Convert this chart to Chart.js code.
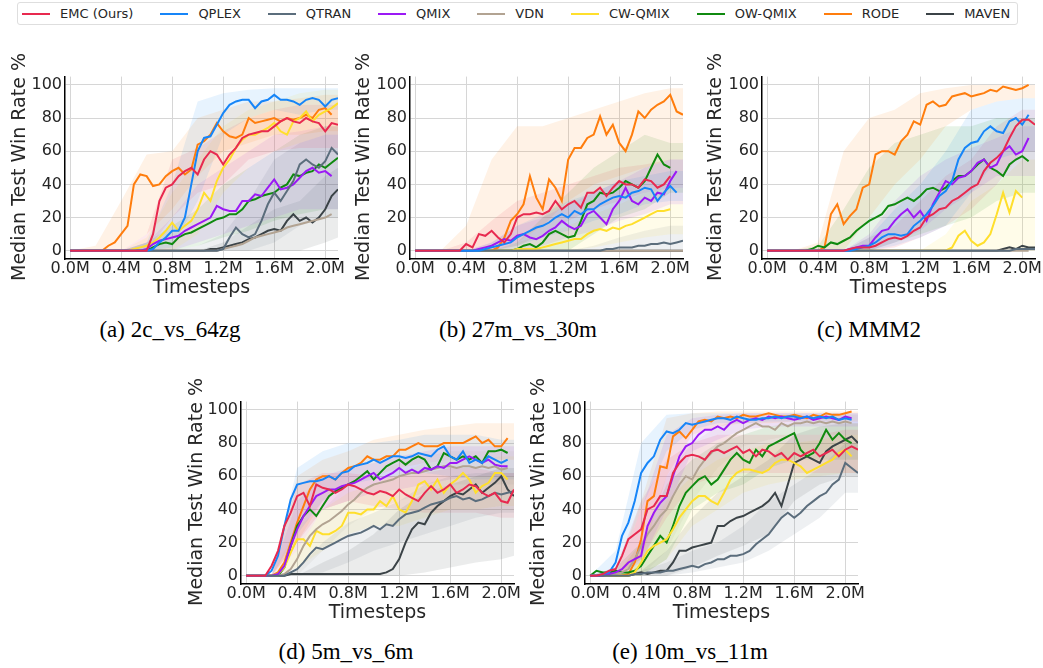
<!DOCTYPE html>
<html>
<head>
<meta charset="utf-8">
<script src="https://cdn.jsdelivr.net/npm/chart.js@4.4.1/dist/chart.umd.min.js"></script>
<style>
  body { margin: 0; width: 1043px; height: 668px; overflow: hidden; background: #fff; position: relative; font-family: "DejaVu Sans"; }
  .legend { position: absolute; left: 17px; top: 2px; width: 1001px; height: 23px; box-sizing: border-box;
            border: 1px solid #dedede; border-radius: 3px; display: flex; align-items: center; padding-left: 4px; }
  .item { display: flex; align-items: center; margin-right: 27px; font-size: 13px; color: #262626; white-space: nowrap; }
  .sw { width: 28px; height: 2px; margin-right: 10px; }
  .plot { position: absolute; width: 342px; height: 235px; }
  .cap { position: absolute; font-family: "Liberation Serif"; font-size: 23px; color: #000; transform: translate(-50%, -50%); white-space: nowrap; }
  .ytitle { position: absolute; font-size: 19px; color: #262626; white-space: nowrap; transform: translate(-50%, -50%) rotate(-90deg); }
</style>
</head>
<body>
<div class="legend" id="legend"></div>

<div class="plot" style="left:6px;top:64px"><canvas id="c2c"></canvas></div>
<div class="plot" style="left:351px;top:64px"><canvas id="c27m"></canvas></div>
<div class="plot" style="left:703px;top:64px"><canvas id="cMMM2"></canvas></div>
<div class="plot" style="left:182px;top:389px"><canvas id="c5m"></canvas></div>
<div class="plot" style="left:526px;top:389px"><canvas id="c10m"></canvas></div>

<div class="ytitle" style="left:18px;top:167px">Median Test Win Rate %</div>
<div class="ytitle" style="left:362px;top:167px">Median Test Win Rate %</div>
<div class="ytitle" style="left:714px;top:167px">Median Test Win Rate %</div>
<div class="ytitle" style="left:195px;top:492px">Median Test Win Rate %</div>
<div class="ytitle" style="left:537px;top:492px">Median Test Win Rate %</div>

<div class="cap" style="left:170px;top:330px">(a) 2c_vs_64zg</div>
<div class="cap" style="left:518px;top:330px">(b) 27m_vs_30m</div>
<div class="cap" style="left:869px;top:330px">(c) MMM2</div>
<div class="cap" style="left:346px;top:652px">(d) 5m_vs_6m</div>
<div class="cap" style="left:690px;top:652px">(e) 10m_vs_11m</div>

<script>
// methods, in legend order
const keys = ['EMC', 'QPLEX', 'QTRAN', 'QMIX', 'VDN', 'CW', 'OW', 'RODE', 'MAVEN'];
const labels = ['EMC (Ours)', 'QPLEX', 'QTRAN', 'QMIX', 'VDN', 'CW-QMIX', 'OW-QMIX', 'RODE', 'MAVEN'];
const colors = ['#e8294f', '#1685f8', '#5b6d7c', '#9b19f5', '#b2a392', '#ffdf2c', '#108a10', '#ff7d0d', '#3b4347'];

// timesteps (millions), one every 0.05M
const steps = [0, 0.05, 0.1, 0.15, 0.2, 0.25, 0.3, 0.35, 0.4, 0.45, 0.5, 0.55, 0.6, 0.65, 0.7, 0.75, 0.8, 0.85, 0.9, 0.95,
  1.0, 1.05, 1.1, 1.15, 1.2, 1.25, 1.3, 1.35, 1.4, 1.45, 1.5, 1.55, 1.6, 1.65, 1.7, 1.75, 1.8, 1.85, 1.9, 1.95, 2.0, 2.05, 2.1];
// coarser grid for the shaded spread
const bandSteps = [0, 0.2, 0.4, 0.6, 0.8, 1.0, 1.2, 1.4, 1.6, 1.8, 2.0, 2.1];

const xTicks = [0, 0.4, 0.8, 1.2, 1.6, 2.0];
const yTicks = [0, 20, 40, 60, 80, 100];

// (a) 2c_vs_64zg
const win2c = {
  EMC: [0,0,0,0,0,0,0,0,0,0,0,0,0,10,30,38,40,45,48,50,46,55,60,58,52,58,62,68,70,71,72,72,75,78,80,78,77,80,78,77,72,77,76],
  QPLEX: [0,0,0,0,0,0,0,0,0,0,0,0,0,1,5,8,12,12,20,40,60,68,69,76,83,88,90,91,91,86,90,91,94,91,91,90,88,91,92,91,87,91,92],
  QTRAN: [0,0,0,0,0,0,0,0,0,0,0,0,0,0,0,0,0,0,0,0,0,0,0,0,1,8,14,10,8,10,18,28,35,30,36,42,52,55,52,50,54,62,58],
  QMIX: [0,0,0,0,0,0,0,0,0,0,0,0,1,4,6,7,8,9,12,14,16,18,20,27,25,24,24,30,30,34,33,38,43,37,38,40,44,48,50,47,48,45],
  VDN: [0,0,0,0,0,0,0,0,0,0,0,0,0,0,0,0,0,0,0,0,0,0,0,0,1,2,3,4,6,8,9,10,11,12,14,15,16,17,18,19,20,22],
  CW: [0,0,0,0,0,0,0,0,0,0,1,2,3,5,8,12,17,12,15,18,25,35,30,42,50,55,62,67,70,70,72,74,77,72,70,78,80,84,78,82,84,86,89],
  OW: [0,0,0,0,0,0,0,0,0,0,0,0,0,2,4,5,4,8,10,11,13,15,17,19,20,22,22,25,30,31,33,34,35,38,40,46,45,47,48,52,50,53,56],
  RODE: [0,0,0,0,0,0,3,5,10,15,40,46,45,39,40,45,48,50,46,49,64,66,70,77,72,69,68,70,80,77,78,79,80,78,80,79,80,82,80,85,86,82],
  MAVEN: [0,0,0,0,0,0,0,0,0,0,0,0,0,0,0,0,0,0,0,0,0,0,1,1,2,3,4,5,7,8,10,12,13,12,18,22,18,20,17,20,25,33,37]
};
const band2c = {
  RODE: [[0,0,0,10,25,45,60,65,70,70,72,72], [0,3,30,58,60,80,85,90,90,92,94,94]],
  QPLEX: [[0,0,0,0,2,30,70,80,85,82,85,85], [0,0,0,5,40,90,95,97,98,98,98,98]],
  EMC: [[0,0,0,0,20,35,40,55,60,62,62,62], [0,0,0,10,55,62,72,80,85,88,88,88]],
  CW: [[0,0,0,0,0,10,35,50,60,65,70,70], [0,0,0,8,35,55,75,85,90,95,97,97]],
  QMIX: [[0,0,0,0,0,5,10,15,20,25,25,25], [0,0,0,5,20,40,50,60,70,72,75,75]],
  OW: [[0,0,0,0,0,3,8,12,18,22,25,25], [0,0,0,5,15,25,40,50,60,70,75,75]],
  QTRAN: [[0,0,0,0,0,0,0,0,5,15,20,20], [0,0,0,0,0,3,10,30,55,65,70,70]],
  MAVEN: [[0,0,0,0,0,0,0,0,0,0,5,8], [0,0,0,0,0,0,5,15,25,30,45,50]]
};

// (b) 27m_vs_30m
const win27m = {
  EMC: [0,0,0,0,0,0,0,0,4,2,10,9,12,8,5,10,20,22,22,23,22,24,30,25,28,30,26,35,35,38,33,38,42,40,40,38,43,42,38,40,45],
  QPLEX: [0,0,0,0,0,0,0,0,0,0,0,1,2,3,4,5,8,10,12,14,15,17,20,22,20,24,22,25,25,28,30,32,33,32,35,36,38,37,30,35,39,35],
  QTRAN: [0,0,0,0,0,0,0,0,0,0,0,0,0,0,0,0,0,0,0,0,0,0,0,0,0,0,0,0,0,0,1,1,2,2,2,3,3,4,4,5,4,5,6],
  QMIX: [0,0,0,0,0,0,0,0,0,0,1,2,3,5,7,6,9,10,8,7,9,12,14,18,15,13,15,22,24,20,16,25,30,38,30,28,32,30,35,34,42,48],
  VDN: [0,0,0,0,0,0,0,0,0,0,0,0,0,0,0,0,0,0,0,0,0,0,0,0,0,0,0,0,0,0,0,0,0,0,0,0,0,0,0,0,0,0,0],
  CW: [0,0,0,0,0,0,0,0,0,0,0,0,0,0,0,0,1,1,1,1,2,3,4,5,6,7,7,10,12,13,12,14,13,15,16,18,20,22,24,24,25],
  OW: [0,0,0,0,0,0,0,0,0,0,0,0,0,0,0,0,1,3,4,2,5,10,12,10,8,9,18,28,30,35,34,35,38,42,40,38,42,50,58,52,50],
  RODE: [0,0,0,0,0,0,0,0,0,0,0,0,0,2,8,18,22,28,45,32,25,43,38,30,55,62,62,68,70,81,70,76,65,60,70,84,80,85,88,90,94,84,82],
  MAVEN: [0,0,0,0,0,0,0,0,0,0,0,0,0,0,0,0,0,0,0,0,0,0,0,0,0,0,0,0,0,0,0,0,0,0,0,0,0,0,0,0,0,0,0]
};
const band27m = {
  RODE: [[0,0,0,0,5,15,30,40,45,50,55,55], [0,0,15,55,75,75,80,85,90,95,98,98]],
  OW: [[0,0,0,0,0,0,0,10,20,25,35,35], [0,0,0,0,5,20,35,50,60,70,65,65]],
  QMIX: [[0,0,0,0,0,3,8,12,18,22,28,28], [0,0,0,5,15,20,28,35,42,50,55,55]],
  QPLEX: [[0,0,0,0,3,8,12,18,22,28,30,30], [0,0,0,5,15,22,30,35,42,45,48,48]],
  CW: [[0,0,0,0,0,0,0,2,5,8,10,10], [0,0,0,0,5,10,15,22,28,35,38,38]],
  EMC: [[0,0,0,0,3,10,18,25,30,35,38,38], [0,0,5,18,30,35,40,45,50,52,55,55]],
  QTRAN: [[0,0,0,0,0,0,0,0,0,0,0,0], [0,0,0,0,0,0,0,3,8,12,15,15]]
};

// (c) MMM2
const winMMM2 = {
  EMC: [0,0,0,0,0,0,0,0,0,0,0,0,0,1,2,2,2,3,5,7,8,7,9,12,14,20,22,25,26,30,32,35,38,40,48,53,56,60,68,75,79,79,76],
  QPLEX: [0,0,0,0,0,0,0,0,0,0,0,0,0,0,1,2,3,5,8,10,10,9,10,15,18,22,27,33,36,42,55,62,65,66,72,75,72,71,78,80,76,82],
  QTRAN: [0,0,0,0,0,0,0,0,0,0,0,0,0,0,0,0,0,0,0,0,0,0,0,0,0,0,0,0,0,0,0,0,0,0,0,0,0,0,0,1,1,1,1],
  QMIX: [0,0,0,0,0,0,0,0,0,0,0,0,0,1,2,3,3,8,12,13,18,22,25,20,24,18,28,35,42,40,44,45,48,53,55,50,52,60,63,58,60,68],
  VDN: [0,0,0,0,0,0,0,0,0,0,0,0,0,0,0,0,0,0,0,0,0,0,0,0,0,0,0,0,0,0,0,0,0,0,0,0,0,0,0,0,0,0],
  CW: [0,0,0,0,0,0,0,0,0,0,0,0,0,0,0,0,0,0,0,0,0,0,0,0,0,0,0,0,0,2,9,12,6,3,5,10,22,35,23,36,32],
  OW: [0,0,0,0,0,0,0,1,3,2,5,4,6,8,12,15,18,20,22,27,28,30,32,30,33,37,38,36,38,42,45,45,48,52,55,50,48,45,52,55,57,54],
  RODE: [0,0,0,0,0,0,0,0,0,2,22,28,16,21,25,38,40,58,60,60,58,66,70,78,76,88,90,87,88,93,94,95,93,94,95,97,96,99,98,97,98,100],
  MAVEN: [0,0,0,0,0,0,0,0,0,0,0,0,0,0,0,0,0,0,0,0,0,0,0,0,0,0,0,0,0,0,0,0,0,0,0,0,0,1,2,1,3,2,2]
};
const bandMMM2 = {
  RODE: [[0,0,0,0,20,40,55,75,85,90,92,92], [0,0,5,60,80,85,95,98,100,100,100,100]],
  OW: [[0,0,0,0,0,5,10,15,20,30,35,35], [0,0,3,25,50,65,70,75,75,80,80,80]],
  QPLEX: [[0,0,0,0,0,3,8,15,35,55,60,60], [0,0,0,0,8,25,40,60,85,90,92,92]],
  QMIX: [[0,0,0,0,0,5,12,25,35,45,45,45], [0,0,0,0,10,30,45,55,62,68,75,75]],
  EMC: [[0,0,0,0,0,2,8,15,25,40,60,60], [0,0,0,0,8,15,30,45,55,75,85,85]],
  CW: [[0,0,0,0,0,0,0,0,0,0,0,0], [0,0,0,0,0,0,0,10,30,40,55,55]]
};

// (d) 5m_vs_6m
const win5m = {
  EMC: [0,0,0,0,6,15,30,38,48,50,42,55,53,52,50,52,55,54,52,50,49,51,50,48,52,49,47,45,50,54,50,52,55,50,52,55,54,50,48,50,45,44,52],
  QPLEX: [0,0,0,0,3,12,30,46,55,56,57,57,58,60,58,62,63,66,67,68,70,68,70,72,72,71,72,74,73,72,76,78,72,70,75,68,70,68,72,70,68,70],
  QTRAN: [0,0,0,0,0,0,0,2,4,8,13,17,16,18,20,22,24,25,26,28,30,28,31,30,34,37,38,39,41,43,44,45,47,48,46,47,45,46,48,50,49,50,51],
  QMIX: [0,0,0,0,0,1,6,18,28,36,42,48,50,52,52,54,55,56,58,60,62,58,60,62,65,62,64,62,65,64,66,65,68,68,70,72,70,68,70,67,66,66],
  VDN: [0,0,0,0,0,0,1,4,10,18,24,28,31,33,36,39,43,46,50,53,55,56,57,58,60,61,62,62,63,64,65,66,66,65,66,66,65,66,65,66,64,65],
  CW: [0,0,0,0,0,1,5,14,22,22,18,27,25,25,27,30,38,38,37,40,40,45,42,48,40,38,45,55,57,52,58,50,55,58,62,58,50,54,56,62,62,58],
  OW: [0,0,0,0,0,0,5,18,30,36,40,36,42,48,51,53,55,57,60,63,58,62,66,68,70,67,70,72,70,64,66,74,72,70,72,70,72,68,75,75,76,74],
  RODE: [0,0,0,0,0,2,8,20,32,42,52,58,60,60,58,62,65,66,68,72,70,70,72,72,76,76,78,80,78,78,78,80,80,80,80,82,84,80,82,78,78,83],
  MAVEN: [0,0,0,0,0,0,0,1,1,1,1,1,1,1,1,1,1,1,1,1,1,1,2,4,10,20,28,32,31,38,42,45,48,50,49,52,55,50,53,56,60,52,48]
};
const band5m = {
  MAVEN: [[0,0,0,0,0,0,0,2,5,8,10,12], [0,0,0,8,15,25,40,50,55,60,65,65]],
  QTRAN: [[0,0,0,2,8,15,20,25,30,35,38,38], [0,0,3,20,32,38,45,55,60,62,62,62]],
  EMC: [[0,0,20,40,45,42,40,38,38,38,35,35], [0,0,55,62,62,60,60,62,65,65,62,62]],
  QPLEX: [[0,0,25,45,55,58,60,62,60,58,58,58], [0,0,65,75,80,80,82,85,85,85,82,82]],
  RODE: [[0,0,20,45,55,60,65,68,70,70,70,70], [0,0,60,70,75,82,85,88,90,92,92,92]],
  VDN: [[0,0,0,15,30,40,45,50,55,55,55,55], [0,0,15,40,55,62,68,72,75,75,75,75]],
  CW: [[0,0,5,15,25,30,30,35,40,40,42,42], [0,0,30,40,50,55,62,68,70,70,72,72]],
  QMIX: [[0,0,15,40,45,50,52,55,58,60,60,60], [0,0,45,60,65,68,72,75,78,78,78,78]]
};

// (e) 10m_vs_11m
const win10m = {
  EMC: [0,0,1,3,4,12,22,25,28,40,42,48,48,62,68,72,73,72,70,75,76,74,76,78,74,76,72,76,75,72,74,70,74,72,74,76,72,74,76,72,76,78,76],
  QPLEX: [0,0,1,2,8,24,32,45,62,68,72,82,87,86,88,92,91,92,93,94,95,95,94,96,95,94,94,95,95,96,95,96,96,95,96,95,96,95,96,94,95,94],
  QTRAN: [0,0,0,0,0,0,0,1,1,2,2,2,3,3,4,5,6,5,7,8,10,10,12,12,13,15,19,22,25,30,35,38,35,38,42,45,48,50,55,58,68,65,62],
  QMIX: [0,0,0,1,2,4,8,10,12,30,38,44,48,60,72,78,80,85,88,88,90,88,92,94,92,94,95,94,96,95,96,95,94,95,96,94,95,96,95,94,96,95],
  VDN: [0,0,0,0,1,2,4,10,18,25,30,36,40,48,55,60,58,65,70,74,78,80,83,86,88,90,92,90,90,88,92,90,92,92,93,92,93,92,93,92,93,92],
  CW: [0,0,0,0,0,0,0,2,8,15,18,20,22,28,35,40,45,48,48,45,43,50,58,62,64,64,63,62,64,68,70,70,68,66,62,64,66,68,70,74,76,72],
  OW: [0,3,2,2,3,2,2,3,6,12,18,24,20,30,42,50,54,58,60,55,58,64,70,74,70,68,76,72,78,80,82,84,86,76,72,74,80,88,82,86,82,80],
  RODE: [0,0,0,0,0,0,1,8,22,45,48,66,65,84,87,83,88,93,94,93,96,95,96,95,97,96,96,97,98,97,96,96,97,96,95,97,96,98,97,97,98,99],
  MAVEN: [0,0,0,0,0,0,0,1,2,1,2,3,3,8,15,15,17,18,19,20,30,30,33,35,36,38,40,42,45,50,42,55,68,70,72,70,68,75,78,80,82,84,80]
};
const band10m = {
  QPLEX: [[0,0,40,75,88,92,92,93,93,93,92,92], [0,15,80,97,98,98,98,98,98,98,98,98]],
  RODE: [[0,0,10,60,85,90,92,92,93,93,93,93], [0,0,45,95,98,99,99,99,99,99,99,99]],
  QMIX: [[0,0,8,40,75,82,88,90,90,90,90,90], [0,0,40,85,95,97,98,98,98,98,98,98]],
  EMC: [[0,0,10,35,55,60,62,62,62,62,62,62], [0,5,45,70,80,85,85,85,85,85,88,88]],
  MAVEN: [[0,0,0,0,5,12,18,25,45,55,60,60], [0,0,3,15,35,50,60,70,85,90,92,92]],
  QTRAN: [[0,0,0,0,2,5,8,15,25,35,50,50], [0,0,3,8,15,20,30,45,55,65,80,80]],
  OW: [[0,0,0,10,40,50,55,65,70,70,70,70], [0,5,20,55,70,80,85,90,92,92,92,92]],
  CW: [[0,0,0,10,30,40,50,55,58,60,62,62], [0,0,20,45,60,70,75,80,80,82,85,85]],
  VDN: [[0,0,0,15,45,65,78,82,85,85,85,85], [0,0,20,60,80,90,95,96,97,97,97,97]]
};

// legend strip
const legend = document.getElementById('legend');
labels.forEach((lab, i) => {
  const it = document.createElement('div');
  it.className = 'item';
  it.innerHTML = '<div class="sw" style="background:' + colors[i] + '"></div>' + lab;
  legend.appendChild(it);
});

function fade(hex, a) {
  const n = parseInt(hex.slice(1), 16);
  return 'rgba(' + (n >> 16) + ',' + ((n >> 8) & 255) + ',' + (n & 255) + ',' + a + ')';
}

Chart.defaults.font.family = 'DejaVu Sans';

function makeChart(id, win, bands) {
  const sets = [];
  keys.forEach((k, i) => {
    sets.push({
      label: labels[i],
      data: win[k].map((v, j) => ({x: steps[j], y: v})),
      borderColor: colors[i],
      borderWidth: 2,
      pointRadius: 0,
      fill: false,
      order: 0
    });
  });
  Object.keys(bands).forEach(k => {
    const c = colors[keys.indexOf(k)];
    sets.push({
      data: bands[k][0].map((v, j) => ({x: bandSteps[j], y: v})),
      borderWidth: 0, pointRadius: 0, fill: false, order: 5
    });
    sets.push({
      data: bands[k][1].map((v, j) => ({x: bandSteps[j], y: v})),
      borderWidth: 0, pointRadius: 0, fill: '-1', backgroundColor: fade(c, 0.1), order: 5
    });
  });

  const tickFont = {family: 'DejaVu Sans', size: 16};
  const titleFont = {family: 'DejaVu Sans', size: 19};

  new Chart(document.getElementById(id), {
    type: 'line',
    data: {datasets: sets},
    options: {
      animation: false,
      responsive: true,
      maintainAspectRatio: false,
      layout: {padding: {top: 10, right: 10, left: 0, bottom: 0}},
      plugins: {legend: {display: false}, tooltip: {enabled: false}},
      scales: {
        x: {
          type: 'linear', min: -0.04, max: 2.1,
          afterBuildTicks: s => { s.ticks = xTicks.map(v => ({value: v})); },
          afterFit: s => { s.height = 40; },
          grid: {color: '#d6d6d6', lineWidth: 1, drawTicks: false},
          border: {color: '#000', width: 1.5},
          ticks: {padding: 0, color: '#262626', font: tickFont, autoSkip: false, maxRotation: 0,
                  callback: v => v.toFixed(1) + 'M'},
          title: {display: true, text: 'Timesteps', color: '#262626', font: titleFont, padding: 0}
        },
        y: {
          min: -5, max: 105,
          afterBuildTicks: s => { s.ticks = yTicks.map(v => ({value: v})); },
          afterFit: s => { s.width = 59; },
          grid: {color: '#d6d6d6', lineWidth: 1, drawTicks: false},
          border: {color: '#000', width: 1.5},
          ticks: {padding: 3, color: '#262626', font: tickFont, callback: v => v}
        }
      }
    }
  });
}

makeChart('c2c', win2c, band2c);
makeChart('c27m', win27m, band27m);
makeChart('cMMM2', winMMM2, bandMMM2);
makeChart('c5m', win5m, band5m);
makeChart('c10m', win10m, band10m);
</script>
</body>
</html>
